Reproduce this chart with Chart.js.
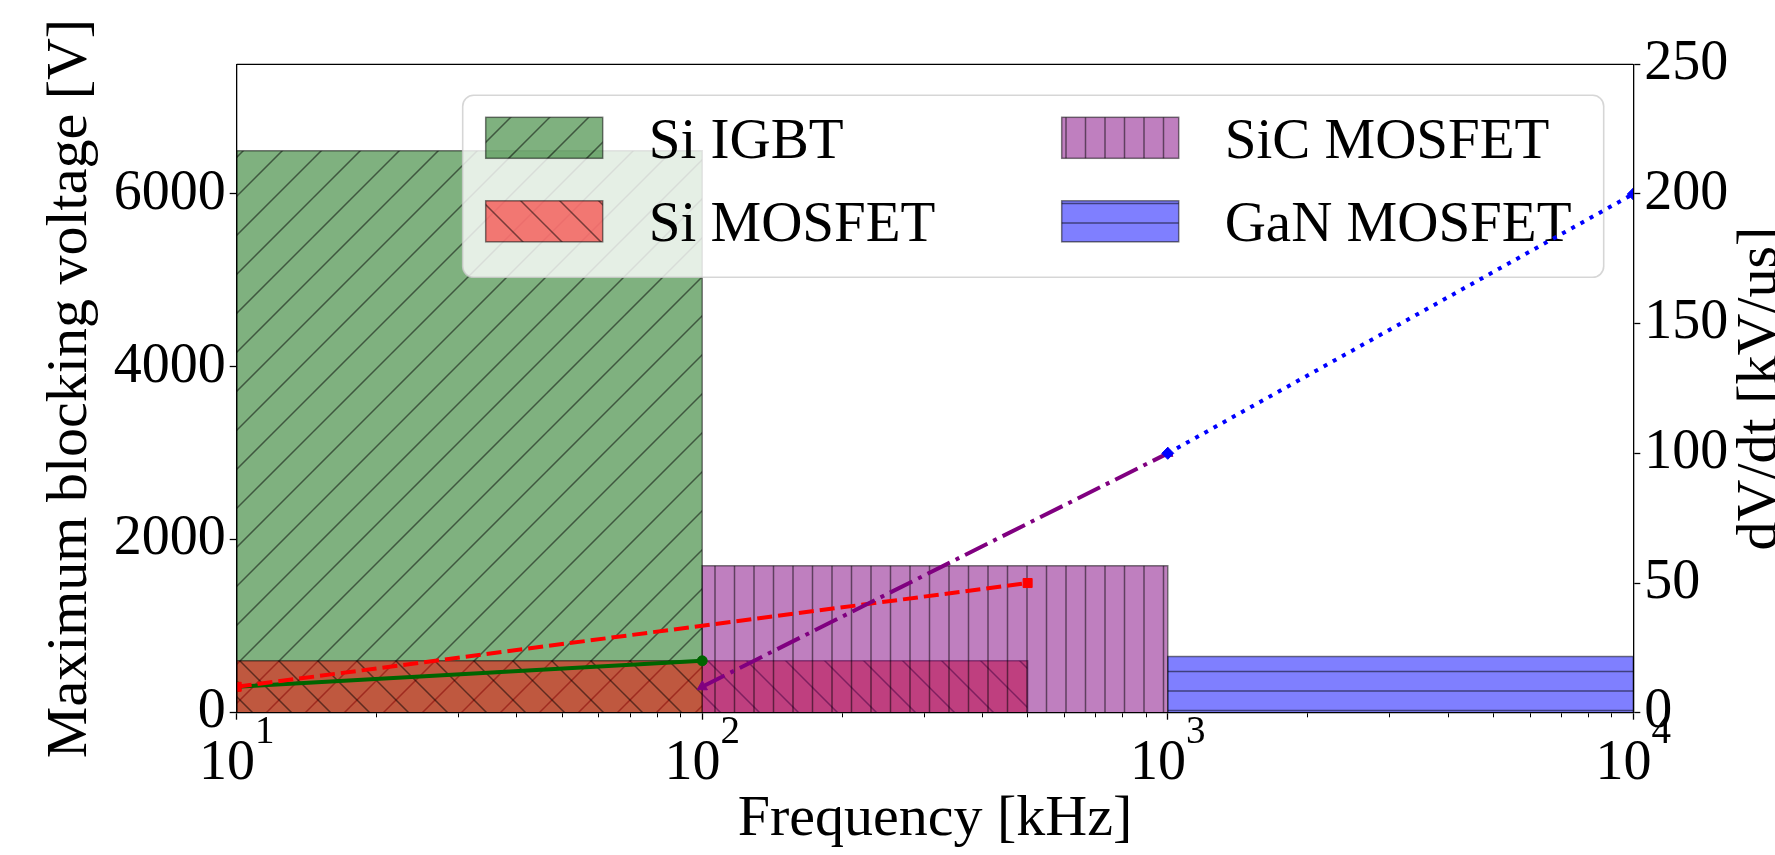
<!DOCTYPE html>
<html>
<head>
<meta charset="utf-8">
<title>Blocking voltage and dV/dt vs frequency</title>
<script src="https://cdn.jsdelivr.net/npm/chart.js@4.4.1/dist/chart.umd.min.js"></script>
<style>
  html, body { margin: 0; padding: 0; background: #fff; }
  #wrap { width: 1775px; height: 855px; position: relative; }
</style>
</head>
<body>
<div id="wrap"><canvas id="myChart"></canvas></div>
<script>
// device families, frequency ranges [kHz] and max blocking voltage [V]
const devices = ['Si IGBT', 'Si MOSFET', 'SiC MOSFET', 'GaN MOSFET'];
const freqFrom = [10, 10, 100, 1000];
const freqTo = [100, 500, 1000, 10000];
const maxVoltage = [6500, 600, 1700, 650];

// dV/dt end points [kV/us] on the right axis
const siIgbtFreq = [10, 100];
const siIgbtDvdt = [10, 20];
const siMosfetFreq = [10, 500];
const siMosfetDvdt = [10, 50];
const sicFreq = [100, 1000];
const sicDvdt = [10, 100];
const ganFreq = [1000, 10000];
const ganDvdt = [100, 200];

// tick labels
const freqTicks = [10, 100, 1000, 10000];
const voltageTicks = [0, 2000, 4000, 6000];
const dvdtTicks = [0, 50, 100, 150, 200, 250];

const SERIF = "'Liberation Serif', 'Times New Roman', serif";

const canvas = document.getElementById('myChart');
const ctx = canvas.getContext('2d');

// hatch patterns, anchored to the canvas origin like matplotlib does with the figure
const TILE = 78;
function hatch(fill, kind) {
    const c = document.createElement('canvas');
    c.width = TILE;
    c.height = TILE;
    const g = c.getContext('2d');
    g.fillStyle = fill;
    g.fillRect(0, 0, TILE, TILE);
    g.strokeStyle = 'rgba(0,0,0,0.5)';
    g.lineWidth = 1.5;
    g.beginPath();
    if (kind === '/') {
        for (let k = -1; k <= 5; k++) {
            const s = 4 + 39 * k;
            g.moveTo(s + 20, -20);
            g.lineTo(-20, s + 20);
        }
    } else if (kind === '\\') {
        for (let k = -3; k <= 3; k++) {
            const s = 8 + 39 * k;
            g.moveTo(s - 20, -20);
            g.lineTo(s + TILE + 20, TILE + 20);
        }
    } else if (kind === '|') {
        for (let k = 0; k < 4; k++) {
            const x = 13 + 19.5 * k;
            g.moveTo(x, 0);
            g.lineTo(x, TILE);
        }
    } else {
        for (let k = 0; k < 4; k++) {
            const y = 8.6 + 19.5 * k;
            g.moveTo(0, y);
            g.lineTo(TILE, y);
        }
    }
    g.stroke();
    return ctx.createPattern(c, 'repeat');
}

const fills = ['rgba(0,100,0,0.5)', 'rgba(255,0,0,0.5)', 'rgba(128,0,128,0.5)', 'rgba(0,0,255,0.5)'];
const hatchKinds = ['/', '\\', '|', '-'];
const patterns = fills.map((f, i) => hatch(f, hatchKinds[i]));

// each range is a filled outline: up, across, down
const barSets = devices.map((name, i) => ({
    label: name,
    data: [
        {x: freqFrom[i], y: 0},
        {x: freqFrom[i], y: maxVoltage[i]},
        {x: freqTo[i], y: maxVoltage[i]},
        {x: freqTo[i], y: 0}
    ],
    yAxisID: 'y',
    fill: 'origin',
    backgroundColor: patterns[i],
    borderColor: 'rgba(0,0,0,0.5)',
    borderWidth: 1.5,
    pointRadius: 0,
    tension: 0,
    order: 10 - i
}));

const pts = (xs, ys) => xs.map((x, i) => ({x: x, y: ys[i]}));

const lineSets = [
    {label: 'Si IGBT dV/dt', data: pts(siIgbtFreq, siIgbtDvdt), borderColor: 'darkgreen', borderDash: [], pointStyle: 'circle', pointRadius: 5},
    {label: 'Si MOSFET dV/dt', data: pts(siMosfetFreq, siMosfetDvdt), borderColor: 'red', borderDash: [15, 6], pointStyle: 'rect', pointRadius: 6.4},
    {label: 'SiC MOSFET dV/dt', data: pts(sicFreq, sicDvdt), borderColor: 'purple', borderDash: [25, 6.5, 4, 6.5], pointStyle: 'triangle', pointRadius: 6},
    {label: 'GaN MOSFET dV/dt', data: pts(ganFreq, ganDvdt), borderColor: 'blue', borderDash: [4, 6.5], pointStyle: 'rectRot', pointRadius: 6}
].map((d, i) => Object.assign({
    yAxisID: 'y1',
    fill: false,
    borderWidth: 4,
    borderCapStyle: 'butt',
    tension: 0,
    backgroundColor: d.borderColor,
    pointBackgroundColor: d.borderColor,
    pointBorderColor: d.borderColor,
    pointBorderWidth: 1,
    order: 4 - i
}, d));

// log minor tick positions for the frequency axis
const freqAllTicks = [];
for (let d = 10; d < 10000; d *= 10) {
    for (let m = 1; m < 10; m++) freqAllTicks.push(m * d);
}
freqAllTicks.push(10000);

function drawLegend(chart) {
    const c = chart.ctx;
    const ca = chart.chartArea;
    const bx = ca.left + 226, by = ca.top + 31, bw = 1141, bh = 182;
    c.save();
    c.beginPath();
    c.roundRect(bx, by, bw, bh, 11);
    c.fillStyle = 'rgba(255,255,255,0.8)';
    c.fill();
    c.strokeStyle = 'rgba(204,204,204,0.8)';
    c.lineWidth = 1.6;
    c.stroke();
    const colX = [bx + 23, bx + 599];
    const rowY = [by + 22, by + 105.5];
    c.font = '57px ' + SERIF;
    c.textBaseline = 'alphabetic';
    c.textAlign = 'left';
    devices.forEach((name, i) => {
        const px = colX[Math.floor(i / 2)], py = rowY[i % 2];
        c.fillStyle = patterns[i];
        c.fillRect(px, py, 117, 41);
        c.strokeStyle = 'rgba(0,0,0,0.5)';
        c.lineWidth = 1.5;
        c.strokeRect(px, py, 117, 41);
        c.fillStyle = '#000';
        c.fillText(name, px + 163, py + 40.5);
    });
    c.restore();
}

const extras = {
    id: 'extras',
    afterDatasetDraw(chart, args) {
        // legend sits above the voltage bars but under the dV/dt lines
        if (args.index === devices.length - 1) drawLegend(chart);
    },
    afterDraw(chart) {
        const c = chart.ctx;
        const ca = chart.chartArea;
        const xs = chart.scales.x;
        const r = chart.scales.y1;
        c.save();
        // top frame line
        c.strokeStyle = '#000';
        c.lineWidth = 1.3;
        c.beginPath();
        c.moveTo(ca.left, ca.top);
        c.lineTo(ca.right, ca.top);
        c.stroke();

        // 10^n tick labels
        c.fillStyle = '#000';
        c.textBaseline = 'alphabetic';
        c.textAlign = 'left';
        freqTicks.forEach(v => {
            const px = xs.getPixelForValue(v);
            const exp = String(Math.round(Math.log10(v)));
            c.font = '56px ' + SERIF;
            const w1 = c.measureText('10').width;
            c.font = '39px ' + SERIF;
            const w2 = c.measureText(exp).width;
            const x0 = px - (w1 + w2) / 2;
            const y0 = xs.top + 66;
            c.font = '56px ' + SERIF;
            c.fillText('10', x0, y0);
            c.font = '39px ' + SERIF;
            c.fillText(exp, x0 + w1, y0 - 36);
        });

        // right axis title, reading bottom to top
        c.translate(r.left + 143, (r.top + r.bottom) / 2);
        c.rotate(-Math.PI / 2);
        c.font = '58px ' + SERIF;
        c.textAlign = 'center';
        c.fillText('dV/dt [kV/us]', 0, 0);
        c.restore();
    }
};

new Chart(ctx, {
    type: 'line',
    data: { datasets: [...barSets, ...lineSets] },
    options: {
        responsive: true,
        maintainAspectRatio: false,
        animation: false,
        events: [],
        layout: { padding: { top: 64.3, left: 0, right: 0, bottom: 0 } },
        plugins: {
            legend: { display: false },
            tooltip: { enabled: false }
        },
        scales: {
            x: {
                type: 'logarithmic',
                position: 'bottom',
                min: 10,
                max: 10000,
                afterBuildTicks: s => {
                    s.ticks = freqAllTicks.map(v => ({value: v, major: freqTicks.includes(v)}));
                },
                afterFit: s => {
                    s.height = 142.3;
                    s.paddingLeft = 0;
                    s.paddingRight = 0;
                },
                ticks: { display: false, autoSkip: false },
                grid: {
                    drawOnChartArea: false,
                    drawTicks: true,
                    tickLength: 7,
                    tickColor: '#000',
                    tickWidth: c => (c.tick && c.tick.major ? 1.3 : 1),
                    tickBorderDash: c => (c.tick && c.tick.major ? [] : [4, 10])
                },
                border: { display: true, color: '#000', width: 1.3, z: 1 },
                title: {
                    display: true,
                    text: 'Frequency [kHz]',
                    color: '#000',
                    font: { family: SERIF, size: 58 },
                    padding: { top: 0, bottom: 0 }
                }
            },
            y: {
                type: 'linear',
                position: 'left',
                min: 0,
                max: 7500,
                afterBuildTicks: s => { s.ticks = voltageTicks.map(v => ({value: v})); },
                afterFit: s => { s.width = 236.7; },
                ticks: {
                    color: '#000',
                    font: { family: SERIF, size: 56 },
                    padding: 4,
                    autoSkip: false,
                    callback: v => String(v)
                },
                grid: { drawOnChartArea: false, tickLength: 7, tickColor: '#000', tickWidth: 1.3 },
                border: { display: true, color: '#000', width: 1.3, z: 1 },
                title: {
                    display: true,
                    text: 'Maximum blocking voltage [V]',
                    color: '#000',
                    font: { family: SERIF, size: 58 },
                    padding: { top: 36, bottom: 0 }
                }
            },
            y1: {
                type: 'linear',
                position: 'right',
                min: 0,
                max: 250,
                afterBuildTicks: s => { s.ticks = dvdtTicks.map(v => ({value: v})); },
                afterFit: s => { s.width = 141.7; },
                ticks: {
                    color: '#000',
                    font: { family: SERIF, size: 56 },
                    padding: 4,
                    autoSkip: false,
                    callback: v => String(v)
                },
                grid: { drawOnChartArea: false, tickLength: 7, tickColor: '#000', tickWidth: 1.3 },
                border: { display: true, color: '#000', width: 1.3, z: 1 }
            }
        }
    },
    plugins: [extras]
});
</script>
</body>
</html>
